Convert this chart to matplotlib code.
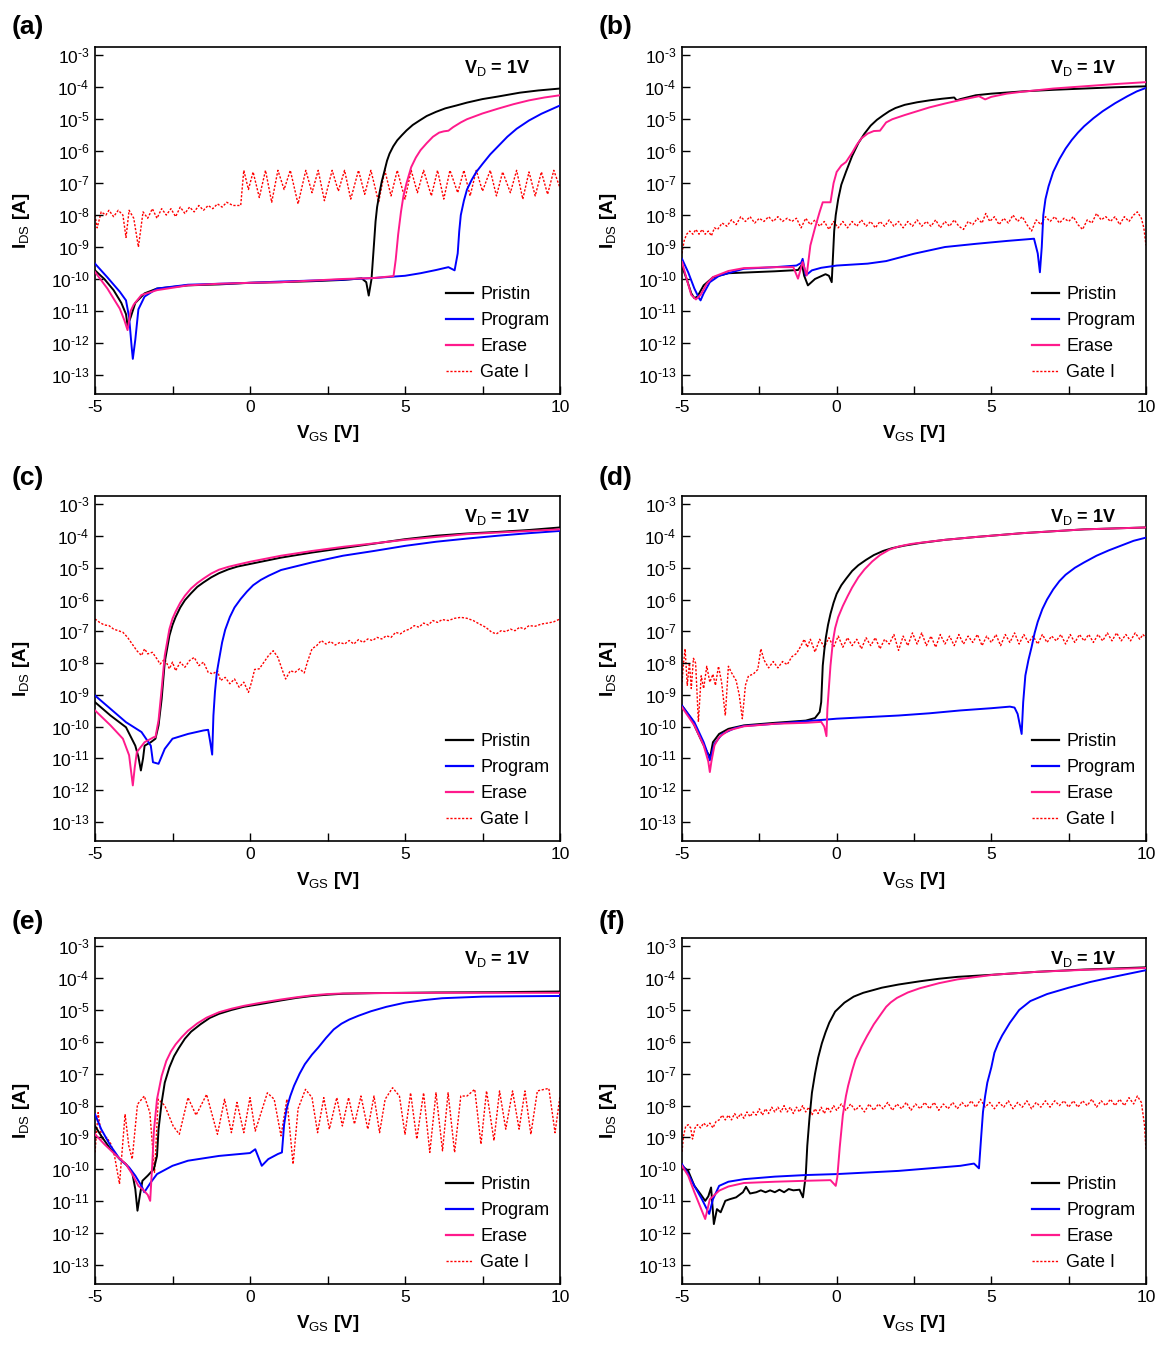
import numpy as np
import matplotlib
matplotlib.use('Agg')
import matplotlib.pyplot as plt
from matplotlib.lines import Line2D
from matplotlib.ticker import FixedLocator, FuncFormatter

plt.rcParams['font.family'] = ['Liberation Sans', 'DejaVu Sans']
plt.rcParams['mathtext.fontset'] = 'custom'
plt.rcParams['mathtext.rm'] = 'Liberation Sans'
plt.rcParams['mathtext.it'] = 'Liberation Sans:italic'
plt.rcParams['mathtext.bf'] = 'Liberation Sans:bold'

# ---------------- data: (V_GS [V], log10 I [A]) ----------------
a_pristin = [(-5.0,-9.73),(-4.7,-10.0),(-4.4,-10.35),(-4.15,-10.75),(-4.0,-11.1),(-3.95,-11.45),(-3.85,-11.2),
             (-3.7,-10.75),(-3.4,-10.45),(-3.0,-10.3),(-2.0,-10.2),(-1.0,-10.17),(0.0,-10.12),(1.0,-10.1),(2.0,-10.07),
             (3.0,-10.03),(3.6,-9.98),(3.75,-10.1),(3.83,-10.52),(3.92,-10.0),(4.0,-8.9),(4.05,-8.2),(4.1,-7.75),
             (4.18,-7.3),(4.25,-6.95),(4.33,-6.65),(4.42,-6.3),(4.5,-6.08),(4.62,-5.85),(4.75,-5.66),(4.9,-5.5),
             (5.05,-5.35),(5.25,-5.18),(5.47,-5.04),(5.7,-4.9),(6.0,-4.77),(6.3,-4.66),(6.66,-4.57),(7.0,-4.48),
             (7.5,-4.37),(8.0,-4.29),(8.7,-4.17),(9.3,-4.1),(10.0,-4.04)]
a_program = [(-5.0,-9.52),(-4.6,-9.95),(-4.2,-10.4),(-4.0,-10.67),(-3.9,-11.2),(-3.82,-12.1),(-3.78,-12.5),(-3.7,-11.9),
             (-3.6,-10.95),(-3.4,-10.55),(-3.0,-10.3),(-2.0,-10.18),(-1.0,-10.15),(0.0,-10.12),(1.0,-10.08),(2.0,-10.05),
             (3.0,-10.02),(4.0,-9.97),(5.0,-9.9),(5.5,-9.82),(6.0,-9.72),(6.4,-9.63),(6.6,-9.73),(6.7,-9.2),(6.75,-8.5),
             (6.8,-8.0),(6.9,-7.55),(7.0,-7.2),(7.15,-6.9),(7.3,-6.65),(7.5,-6.4),(7.75,-6.1),(8.0,-5.85),(8.3,-5.55),
             (8.6,-5.3),(9.0,-5.04),(9.4,-4.83),(9.7,-4.7),(10.0,-4.57)]
a_erase = [(-5.0,-9.78),(-4.6,-10.3),(-4.2,-10.93),(-4.05,-11.3),(-3.95,-11.6),(-3.85,-11.0),(-3.75,-10.8),(-3.5,-10.5),
           (-3.0,-10.35),(-2.0,-10.2),(-1.0,-10.15),(0.0,-10.12),(1.0,-10.1),(2.0,-10.05),(3.0,-10.0),(4.0,-9.97),
           (4.63,-9.91),(4.7,-9.4),(4.78,-8.6),(4.87,-7.9),(4.95,-7.4),(5.05,-7.0),(5.2,-6.5),(5.35,-6.2),(5.5,-5.97),
           (5.7,-5.75),(5.9,-5.55),(6.1,-5.42),(6.25,-5.38),(6.4,-5.36),(6.55,-5.25),(6.8,-5.1),(7.0,-5.0),(7.5,-4.82),
           (8.0,-4.67),(8.5,-4.53),(9.0,-4.41),(9.5,-4.32),(10.0,-4.25)]
a_gate = [(-5.0,-8.0),(-4.93,-8.4),(-4.8,-7.9),(-4.65,-8.0),(-4.55,-7.85),(-4.4,-8.05),(-4.25,-7.85),(-4.1,-8.0),
          (-4.0,-8.7),(-3.9,-7.85),(-3.75,-8.1),(-3.6,-9.0),(-3.45,-7.9),(-3.3,-8.1),(-3.15,-7.8),(-3.0,-8.1),
          (-2.85,-7.8),(-2.7,-8.0),(-2.55,-7.8),(-2.4,-8.05),(-2.25,-7.75),(-2.1,-7.95),(-1.95,-7.75),(-1.8,-7.9),
          (-1.65,-7.7),(-1.5,-7.85),(-1.35,-7.7),(-1.2,-7.8),(-1.05,-7.65),(-0.9,-7.75),(-0.75,-7.6),(-0.55,-7.7),
          (-0.3,-7.7),(-0.2,-6.6),(-0.05,-7.2),(0.1,-6.65),(0.3,-7.45),(0.5,-6.6),(0.7,-7.6),(0.9,-6.6),(1.1,-7.2),
          (1.3,-6.6),(1.55,-7.65),(1.8,-6.6),(2.0,-7.3),(2.2,-6.6),(2.4,-7.55),(2.65,-6.6),(2.85,-7.25),(3.05,-6.6),
          (3.25,-7.5),(3.5,-6.6),(3.7,-7.35),(3.9,-6.6),(4.15,-7.6),(4.35,-6.6),(4.55,-7.4),(4.75,-6.6),(5.0,-7.5),
          (5.2,-6.6),(5.4,-7.3),(5.6,-6.6),(5.85,-7.4),(6.05,-6.6),(6.25,-7.5),(6.45,-6.6),(6.7,-7.3),(6.9,-6.6),
          (7.1,-7.4),(7.3,-6.6),(7.5,-7.25),(7.75,-6.6),(7.95,-7.4),(8.15,-6.65),(8.4,-7.3),(8.6,-6.6),(8.8,-7.5),
          (9.0,-6.65),(9.2,-7.4),(9.4,-6.65),(9.6,-7.35),(9.8,-6.6),(10.0,-7.15)]

b_pristin = [(-5.0,-9.6),(-4.85,-10.0),(-4.7,-10.45),(-4.6,-10.6),(-4.5,-10.55),(-4.3,-10.2),(-4.0,-9.95),(-3.5,-9.82),
             (-3.0,-9.8),(-2.0,-9.76),(-1.25,-9.72),(-1.12,-9.55),(-1.05,-9.9),(-0.93,-10.2),(-0.7,-10.0),(-0.36,-9.85),
             (-0.25,-9.9),(-0.16,-10.1),(-0.12,-9.3),(-0.08,-8.5),(-0.03,-8.0),(0.05,-7.5),(0.15,-7.05),(0.3,-6.65),
             (0.5,-6.15),(0.7,-5.75),(0.9,-5.45),(1.1,-5.2),(1.3,-5.02),(1.5,-4.88),(1.7,-4.75),(1.9,-4.65),
             (2.2,-4.55),(2.6,-4.47),(3.0,-4.41),(3.4,-4.36),(3.8,-4.32),(3.88,-4.41),(4.0,-4.37),(4.5,-4.25),
             (5.0,-4.2),(6.0,-4.13),(7.0,-4.08),(8.0,-4.04),(9.0,-4.0),(10.0,-3.97)]
b_program = [(-5.0,-9.37),(-4.8,-9.79),(-4.6,-10.3),(-4.45,-10.6),(-4.4,-10.67),(-4.3,-10.45),(-4.1,-10.1),(-3.8,-9.9),
             (-3.0,-9.68),(-2.0,-9.63),(-1.3,-9.58),(-1.15,-9.5),(-1.1,-9.37),(-1.0,-9.89),(-0.8,-9.73),(-0.5,-9.65),
             (0.0,-9.58),(1.0,-9.52),(1.6,-9.44),(2.5,-9.21),(3.5,-9.0),(4.5,-8.9),(5.5,-8.81),(6.38,-8.74),
             (6.5,-9.2),(6.57,-9.79),(6.63,-9.0),(6.68,-8.0),(6.75,-7.5),(6.85,-7.1),(7.0,-6.65),(7.2,-6.25),
             (7.4,-5.92),(7.6,-5.65),(7.8,-5.42),(8.0,-5.22),(8.3,-4.97),(8.6,-4.75),(9.0,-4.5),(9.4,-4.28),
             (9.7,-4.13),(10.0,-4.02)]
b_erase = [(-5.0,-9.47),(-4.85,-10.0),(-4.7,-10.5),(-4.55,-10.64),(-4.4,-10.5),(-4.2,-10.15),(-4.0,-9.94),(-3.5,-9.75),
           (-3.0,-9.66),(-2.0,-9.63),(-1.4,-9.63),(-1.25,-9.99),(-1.1,-9.47),(-0.97,-9.89),(-0.85,-8.95),(-0.7,-8.4),
           (-0.55,-7.9),(-0.45,-7.6),(-0.2,-7.6),(-0.1,-7.0),(0.0,-6.65),(0.15,-6.45),(0.3,-6.34),(0.5,-6.05),
           (0.65,-5.8),(0.8,-5.6),(1.0,-5.45),(1.2,-5.37),(1.4,-5.36),(1.6,-5.1),(1.8,-5.0),(2.2,-4.87),(2.6,-4.75),
           (3.0,-4.63),(3.5,-4.51),(4.0,-4.4),(4.6,-4.28),(4.8,-4.38),(5.0,-4.3),(5.5,-4.2),(6.0,-4.14),(7.0,-4.04),
           (8.0,-3.97),(9.0,-3.9),(10.0,-3.84)]
b_gate = [(-5.0,-9.2),(-4.93,-8.8),(-4.85,-8.6),(-4.75,-8.5),(-4.65,-8.6),(-4.55,-8.45),(-4.45,-8.6),(-4.35,-8.45),
          (-4.25,-8.6),(-4.15,-8.5),(-4.05,-8.65),(-3.95,-8.4),(-3.85,-8.45),(-3.7,-8.25),(-3.55,-8.35),(-3.4,-8.15),
          (-3.25,-8.3),(-3.1,-8.05),(-2.95,-8.2),(-2.8,-8.05),(-2.65,-8.25),(-2.5,-8.1),(-2.35,-8.2),(-2.2,-8.05),
          (-2.05,-8.2),(-1.9,-8.05),(-1.75,-8.2),(-1.6,-8.1),(-1.45,-8.2),(-1.3,-8.1),(-1.15,-8.4),(-1.0,-8.1),
          (-0.85,-8.3),(-0.7,-8.15),(-0.55,-8.35),(-0.4,-8.2),(-0.25,-8.45),(-0.1,-8.2),(0.05,-8.4),(0.2,-8.2),
          (0.35,-8.4),(0.5,-8.2),(0.65,-8.35),(0.8,-8.15),(0.95,-8.35),(1.1,-8.2),(1.25,-8.4),(1.4,-8.2),
          (1.55,-8.35),(1.7,-8.15),(1.85,-8.35),(2.0,-8.2),(2.15,-8.4),(2.3,-8.2),(2.45,-8.35),(2.6,-8.15),
          (2.75,-8.35),(2.9,-8.2),(3.05,-8.35),(3.2,-8.15),(3.35,-8.4),(3.5,-8.2),(3.65,-8.35),(3.8,-8.15),
          (3.95,-8.35),(4.1,-8.45),(4.25,-8.2),(4.4,-8.3),(4.55,-8.1),(4.7,-8.25),(4.82,-7.95),(4.95,-8.2),
          (5.1,-8.05),(5.25,-8.3),(5.4,-8.1),(5.55,-8.25),(5.7,-8.0),(5.85,-8.2),(6.0,-8.05),(6.15,-8.3),
          (6.3,-8.5),(6.45,-8.15),(6.6,-8.3),(6.75,-8.05),(6.9,-8.2),(7.05,-8.05),(7.2,-8.25),(7.35,-8.1),
          (7.5,-8.2),(7.65,-8.05),(7.8,-8.3),(7.95,-8.45),(8.1,-8.15),(8.25,-8.25),(8.4,-7.95),(8.55,-8.15),
          (8.7,-8.05),(8.85,-8.2),(9.0,-8.05),(9.15,-8.3),(9.3,-8.05),(9.45,-8.2),(9.6,-8.0),(9.72,-7.9),
          (9.85,-8.1),(9.93,-8.4),(10.0,-8.95)]

c_pristin = [(-5.0,-9.23),(-4.5,-9.65),(-4.0,-10.02),(-3.7,-10.6),(-3.6,-10.95),(-3.52,-11.38),(-3.45,-11.0),(-3.4,-10.6),
             (-3.2,-10.49),(-3.05,-10.38),(-2.95,-9.96),(-2.85,-9.13),(-2.75,-7.97),(-2.6,-7.14),(-2.5,-6.8),
             (-2.4,-6.55),(-2.25,-6.25),(-2.1,-6.02),(-1.9,-5.8),(-1.7,-5.6),(-1.5,-5.46),(-1.25,-5.3),(-1.0,-5.17),
             (-0.7,-5.05),(-0.4,-4.96),(0.0,-4.88),(0.5,-4.78),(1.0,-4.68),(2.0,-4.52),(3.0,-4.38),(4.0,-4.24),
             (5.0,-4.1),(6.0,-3.99),(7.0,-3.92),(8.0,-3.87),(9.0,-3.81),(10.0,-3.73)]
c_program = [(-5.0,-9.02),(-4.5,-9.44),(-4.0,-9.86),(-3.5,-10.17),(-3.2,-10.6),(-3.13,-11.12),(-2.95,-11.17),(-2.75,-10.7),
             (-2.5,-10.38),(-2.0,-10.23),(-1.5,-10.12),(-1.35,-10.1),(-1.28,-10.5),(-1.22,-10.88),(-1.18,-9.65),
             (-1.13,-8.9),(-1.07,-8.3),(-1.0,-7.9),(-0.9,-7.35),(-0.8,-6.95),(-0.65,-6.55),(-0.5,-6.25),(-0.3,-5.98),
             (-0.1,-5.75),(0.1,-5.55),(0.35,-5.38),(0.6,-5.25),(1.0,-5.07),(1.5,-4.95),(2.0,-4.83),(3.0,-4.62),
             (4.0,-4.47),(5.0,-4.31),(6.0,-4.18),(7.0,-4.08),(8.0,-3.99),(9.0,-3.91),(10.0,-3.84)]
c_erase = [(-5.0,-9.49),(-4.5,-9.96),(-4.1,-10.38),(-3.9,-10.9),(-3.85,-11.3),(-3.78,-11.85),(-3.72,-11.3),(-3.65,-10.8),
           (-3.4,-10.49),(-3.1,-10.33),(-3.05,-10.33),(-2.95,-9.8),(-2.85,-8.81),(-2.75,-7.76),(-2.6,-6.93),
           (-2.5,-6.6),(-2.4,-6.38),(-2.25,-6.1),(-2.1,-5.88),(-1.9,-5.65),(-1.7,-5.48),(-1.5,-5.34),(-1.25,-5.18),
           (-1.0,-5.06),(-0.7,-4.97),(-0.4,-4.9),(0.0,-4.81),(1.0,-4.62),(2.0,-4.47),(3.0,-4.34),(4.0,-4.23),
           (5.0,-4.12),(6.0,-4.03),(7.0,-3.94),(8.0,-3.89),(9.0,-3.84),(10.0,-3.79)]
c_gate = [(-5.0,-6.61),(-4.85,-6.72),(-4.7,-6.8),(-4.55,-6.82),(-4.4,-6.93),(-4.25,-6.98),(-4.1,-7.03),(-3.95,-7.19),
          (-3.8,-7.4),(-3.65,-7.61),(-3.5,-7.76),(-3.4,-7.55),(-3.3,-7.71),(-3.15,-7.66),(-3.0,-7.87),(-2.9,-8.03),
          (-2.75,-7.87),(-2.6,-8.18),(-2.5,-7.97),(-2.4,-8.24),(-2.25,-7.97),(-2.1,-8.13),(-1.95,-7.92),(-1.8,-7.82),
          (-1.65,-8.08),(-1.5,-7.97),(-1.35,-8.29),(-1.2,-8.34),(-1.05,-8.24),(-0.95,-8.55),(-0.8,-8.45),(-0.65,-8.65),
          (-0.5,-8.5),(-0.35,-8.76),(-0.2,-8.6),(-0.05,-8.92),(0.05,-8.6),(0.15,-8.2),(0.3,-8.18),(0.45,-7.97),
          (0.6,-7.76),(0.75,-7.61),(0.9,-7.82),(1.05,-8.24),(1.15,-8.5),(1.3,-8.24),(1.45,-8.29),(1.6,-8.18),
          (1.75,-8.31),(1.85,-7.97),(2.0,-7.55),(2.15,-7.45),(2.3,-7.29),(2.45,-7.4),(2.6,-7.32),(2.75,-7.43),
          (2.9,-7.35),(3.05,-7.4),(3.2,-7.29),(3.35,-7.4),(3.5,-7.26),(3.65,-7.35),(3.8,-7.24),(3.95,-7.29),
          (4.1,-7.19),(4.25,-7.24),(4.4,-7.14),(4.55,-7.19),(4.7,-7.03),(4.85,-7.08),(5.0,-6.98),(5.15,-6.93),
          (5.3,-6.82),(5.45,-6.87),(5.6,-6.74),(5.75,-6.8),(5.9,-6.66),(6.05,-6.72),(6.2,-6.63),(6.4,-6.66),
          (6.6,-6.59),(6.8,-6.56),(7.0,-6.59),(7.2,-6.66),(7.4,-6.77),(7.6,-6.87),(7.8,-7.03),(7.95,-7.08),
          (8.1,-6.98),(8.25,-7.01),(8.4,-6.93),(8.55,-6.98),(8.7,-6.87),(8.85,-6.93),(9.0,-6.82),(9.2,-6.84),
          (9.4,-6.77),(9.6,-6.74),(9.8,-6.7),(10.0,-6.61)]

d_pristin = [(-5.0,-9.34),(-4.7,-9.75),(-4.4,-10.38),(-4.19,-10.8),(-4.09,-10.96),(-4.0,-10.49),(-3.8,-10.23),(-3.5,-10.07),
             (-3.0,-9.96),(-2.0,-9.88),(-1.0,-9.81),(-0.7,-9.73),(-0.55,-9.54),(-0.5,-9.23),(-0.45,-8.08),(-0.4,-7.6),
             (-0.35,-7.2),(-0.28,-6.8),(-0.2,-6.45),(-0.1,-6.1),(0.0,-5.82),(0.15,-5.55),(0.3,-5.35),(0.5,-5.1),
             (0.7,-4.92),(0.95,-4.75),(1.2,-4.6),(1.5,-4.47),(1.8,-4.38),(2.2,-4.3),(2.7,-4.22),(3.5,-4.12),
             (4.5,-4.03),(6.0,-3.91),(8.0,-3.79),(10.0,-3.73)]
d_program = [(-5.0,-9.34),(-4.6,-9.86),(-4.3,-10.49),(-4.15,-10.9),(-4.1,-11.06),(-4.03,-10.8),(-3.95,-10.54),(-3.7,-10.23),
             (-3.3,-10.05),(-3.0,-9.98),(-2.0,-9.91),(-1.0,-9.83),(0.0,-9.75),(1.0,-9.7),(2.0,-9.65),(3.0,-9.58),
             (4.0,-9.49),(5.0,-9.42),(5.6,-9.37),(5.75,-9.4),(5.85,-9.6),(5.98,-10.23),(6.03,-9.23),(6.1,-8.39),
             (6.2,-7.9),(6.3,-7.5),(6.4,-7.05),(6.5,-6.7),(6.65,-6.3),(6.8,-6.0),(7.0,-5.68),(7.2,-5.42),(7.4,-5.22),
             (7.7,-5.0),(8.0,-4.83),(8.4,-4.62),(8.8,-4.45),(9.2,-4.3),(9.6,-4.15),(10.0,-4.05)]
d_erase = [(-5.0,-9.39),(-4.6,-9.96),(-4.3,-10.59),(-4.15,-11.1),(-4.1,-11.43),(-4.05,-11.1),(-3.95,-10.59),(-3.8,-10.33),
           (-3.5,-10.12),(-3.0,-9.99),(-2.0,-9.91),(-1.0,-9.88),(-0.5,-9.85),(-0.4,-10.0),(-0.33,-10.3),(-0.3,-9.44),
           (-0.2,-8.08),(-0.12,-7.3),(-0.05,-6.9),(0.05,-6.55),(0.2,-6.2),(0.35,-5.9),(0.5,-5.62),(0.7,-5.3),
           (0.9,-5.05),(1.15,-4.8),(1.4,-4.6),(1.7,-4.43),(2.0,-4.33),(2.4,-4.25),(2.8,-4.2),(3.5,-4.12),
           (4.5,-4.03),(6.0,-3.91),(8.0,-3.79),(10.0,-3.73)]
d_gate = [(-5.0,-8.6),(-4.95,-8.0),(-4.9,-7.55),(-4.83,-8.7),(-4.76,-8.0),(-4.7,-8.8),(-4.63,-7.85),(-4.56,-8.0),
          (-4.47,-9.85),(-4.38,-8.4),(-4.3,-8.8),(-4.2,-8.1),(-4.1,-8.6),(-4.0,-8.35),(-3.92,-8.7),(-3.82,-8.1),
          (-3.72,-8.6),(-3.6,-9.65),(-3.5,-8.1),(-3.4,-8.3),(-3.25,-8.55),(-3.15,-9.0),(-3.05,-9.75),(-2.95,-8.7),
          (-2.85,-8.4),(-2.7,-8.35),(-2.55,-8.2),(-2.45,-7.55),(-2.35,-7.9),(-2.2,-8.15),(-2.05,-7.95),(-1.9,-8.15),
          (-1.75,-7.95),(-1.6,-8.05),(-1.45,-7.8),(-1.3,-7.7),(-1.15,-7.45),(-1.05,-7.25),(-0.95,-7.5),(-0.85,-7.25),
          (-0.7,-7.65),(-0.55,-7.25),(-0.4,-7.5),(-0.25,-7.2),(-0.1,-7.5),(0.05,-7.15),(0.2,-7.5),(0.35,-7.2),
          (0.5,-7.45),(0.65,-7.25),(0.8,-7.55),(0.95,-7.2),(1.1,-7.45),(1.25,-7.2),(1.4,-7.55),(1.55,-7.25),
          (1.7,-7.4),(1.85,-7.1),(2.0,-7.6),(2.15,-7.15),(2.3,-7.45),(2.45,-7.05),(2.6,-7.4),(2.75,-7.05),
          (2.9,-7.45),(3.05,-7.15),(3.2,-7.5),(3.35,-7.1),(3.5,-7.4),(3.65,-7.15),(3.8,-7.45),(3.95,-7.1),
          (4.1,-7.4),(4.25,-7.15),(4.4,-7.35),(4.55,-7.1),(4.7,-7.45),(4.85,-7.15),(5.0,-7.35),(5.15,-7.1),
          (5.3,-7.45),(5.45,-7.1),(5.6,-7.35),(5.75,-7.05),(5.9,-7.4),(6.05,-7.1),(6.2,-7.35),(6.35,-7.15),
          (6.5,-7.4),(6.65,-7.1),(6.8,-7.35),(6.95,-7.15),(7.1,-7.3),(7.25,-7.1),(7.4,-7.4),(7.55,-7.1),
          (7.7,-7.35),(7.85,-7.1),(8.0,-7.3),(8.15,-7.1),(8.3,-7.35),(8.45,-7.1),(8.6,-7.3),(8.75,-7.05),
          (8.9,-7.3),(9.05,-7.05),(9.2,-7.3),(9.35,-7.1),(9.5,-7.3),(9.65,-7.05),(9.8,-7.25),(9.9,-7.1),(10.0,-7.2)]

e_pristin = [(-5.0,-8.64),(-4.8,-8.95),(-4.5,-9.37),(-4.2,-9.68),(-4.0,-9.84),(-3.8,-10.1),(-3.7,-10.62),(-3.63,-11.3),
             (-3.55,-10.8),(-3.47,-10.36),(-3.3,-10.2),(-3.1,-9.99),(-3.0,-9.58),(-2.95,-8.74),(-2.85,-7.9),
             (-2.75,-7.28),(-2.6,-6.8),(-2.45,-6.45),(-2.3,-6.2),(-2.1,-5.9),(-1.9,-5.68),(-1.6,-5.45),(-1.3,-5.25),
             (-1.0,-5.12),(-0.6,-5.0),(-0.2,-4.9),(0.3,-4.82),(1.0,-4.7),(1.5,-4.62),(2.0,-4.56),(2.5,-4.52),
             (3.0,-4.49),(4.0,-4.47),(6.0,-4.45),(8.0,-4.44),(10.0,-4.42)]
e_program = [(-5.0,-8.27),(-4.8,-8.74),(-4.5,-9.26),(-4.2,-9.68),(-3.9,-9.94),(-3.7,-10.2),(-3.5,-10.52),(-3.41,-10.72),
             (-3.2,-10.41),(-3.0,-10.15),(-2.5,-9.89),(-2.0,-9.73),(-1.0,-9.58),(0.0,-9.49),(0.17,-9.37),(0.38,-9.89),
             (0.59,-9.68),(0.9,-9.52),(1.03,-9.47),(1.1,-8.6),(1.18,-8.1),(1.3,-7.7),(1.42,-7.38),(1.6,-7.0),
             (1.77,-6.7),(2.0,-6.4),(2.2,-6.18),(2.45,-5.88),(2.7,-5.61),(2.95,-5.43),(3.2,-5.3),(3.5,-5.18),
             (3.9,-5.04),(4.4,-4.9),(5.0,-4.77),(5.6,-4.69),(6.2,-4.63),(7.5,-4.58),(8.5,-4.57),(10.0,-4.56)]
e_erase = [(-5.0,-8.9),(-4.7,-9.21),(-4.3,-9.58),(-4.0,-9.84),(-3.8,-10.15),(-3.6,-10.52),(-3.47,-10.62),(-3.3,-10.8),
           (-3.22,-10.99),(-3.15,-9.78),(-3.1,-8.8),(-3.0,-7.8),(-2.85,-7.07),(-2.7,-6.6),(-2.55,-6.3),(-2.4,-6.08),
           (-2.2,-5.85),(-2.0,-5.65),(-1.7,-5.42),(-1.4,-5.24),(-1.0,-5.07),(-0.6,-4.96),(-0.2,-4.87),(0.3,-4.78),
           (1.0,-4.67),(1.5,-4.6),(2.0,-4.54),(2.5,-4.5),(3.0,-4.48),(4.0,-4.47),(6.0,-4.46),(8.0,-4.46),(10.0,-4.46)]
e_gate = [(-5.0,-9.47),(-4.9,-8.22),(-4.78,-9.05),(-4.62,-9.0),(-4.49,-9.2),(-4.37,-9.58),(-4.21,-10.46),(-4.03,-8.27),
          (-3.91,-9.26),(-3.8,-9.68),(-3.63,-7.96),(-3.41,-7.7),(-3.23,-8.22),(-3.08,-10.1),(-2.96,-7.8),(-2.75,-8.0),
          (-2.48,-8.64),(-2.28,-8.9),(-2.0,-7.75),(-1.74,-8.3),(-1.4,-7.65),(-1.05,-8.9),(-0.82,-7.8),(-0.6,-8.85),
          (-0.42,-7.9),(-0.2,-8.85),(0.0,-7.75),(0.17,-8.8),(0.56,-7.6),(0.78,-7.8),(1.0,-8.95),(1.19,-7.8),
          (1.39,-9.84),(1.55,-8.1),(1.79,-7.49),(2.0,-7.75),(2.18,-8.85),(2.38,-7.75),(2.56,-8.74),(2.8,-7.75),
          (2.98,-8.64),(3.18,-7.75),(3.37,-8.58),(3.58,-7.7),(3.8,-8.74),(4.0,-7.7),(4.18,-8.85),(4.36,-7.8),
          (4.6,-7.44),(4.82,-7.7),(5.0,-8.9),(5.18,-7.6),(5.38,-9.05),(5.6,-7.6),(5.8,-9.47),(6.0,-7.6),
          (6.21,-9.42),(6.39,-7.6),(6.6,-9.47),(6.8,-7.7),(7.0,-7.7),(7.25,-7.49),(7.45,-9.21),(7.63,-7.54),
          (7.87,-9.1),(8.05,-7.54),(8.25,-8.74),(8.47,-7.54),(8.68,-8.74),(8.87,-7.54),(9.06,-8.9),(9.27,-7.54),
          (9.45,-7.5),(9.64,-7.46),(9.84,-8.85),(10.0,-7.7)]

f_pristin = [(-5.0,-9.89),(-4.8,-10.05),(-4.6,-10.52),(-4.4,-10.78),(-4.25,-10.99),(-4.15,-10.85),(-4.06,-10.57),
             (-3.97,-11.72),(-3.87,-11.25),(-3.75,-11.35),(-3.6,-10.99),(-3.46,-10.94),(-3.25,-10.88),(-3.03,-10.72),
             (-2.93,-10.55),(-2.8,-10.76),(-2.6,-10.72),(-2.45,-10.66),(-2.3,-10.72),(-2.15,-10.66),(-2.0,-10.72),
             (-1.85,-10.64),(-1.7,-10.72),(-1.55,-10.62),(-1.4,-10.66),(-1.2,-10.64),(-1.09,-10.88),(-1.0,-10.2),
             (-0.95,-9.26),(-0.88,-8.4),(-0.8,-7.6),(-0.7,-7.0),(-0.6,-6.5),(-0.48,-6.05),(-0.36,-5.7),(-0.24,-5.4),
             (-0.05,-5.05),(0.25,-4.77),(0.55,-4.58),(0.86,-4.46),(1.2,-4.37),(1.46,-4.3),(2.0,-4.2),(2.68,-4.1),
             (3.3,-4.02),(3.9,-3.96),(5.1,-3.89),(6.5,-3.8),(8.0,-3.73),(10.0,-3.66)]
f_program = [(-5.0,-9.84),(-4.8,-10.15),(-4.6,-10.52),(-4.35,-10.95),(-4.12,-11.4),(-4.0,-10.94),(-3.8,-10.52),
             (-3.5,-10.39),(-3.0,-10.31),(-2.0,-10.23),(-1.0,-10.18),(0.0,-10.15),(1.0,-10.1),(2.0,-10.05),(3.0,-9.97),
             (4.0,-9.89),(4.44,-9.82),(4.6,-9.97),(4.67,-9.0),(4.73,-8.2),(4.8,-7.7),(4.87,-7.28),(5.0,-6.8),
             (5.1,-6.34),(5.22,-6.05),(5.35,-5.8),(5.6,-5.4),(5.9,-5.0),(6.26,-4.72),(6.8,-4.5),(7.5,-4.3),
             (8.2,-4.12),(9.0,-3.95),(9.5,-3.85),(10.0,-3.75)]
f_erase = [(-5.0,-9.89),(-4.8,-10.2),(-4.6,-10.72),(-4.4,-11.2),(-4.25,-11.56),(-4.1,-10.94),(-3.8,-10.67),(-3.5,-10.54),
           (-3.0,-10.43),(-2.0,-10.39),(-1.0,-10.36),(-0.2,-10.34),(-0.03,-10.52),(0.02,-10.25),(0.1,-9.3),
           (0.2,-8.3),(0.3,-7.7),(0.37,-7.38),(0.5,-6.9),(0.61,-6.55),(0.8,-6.15),(0.98,-5.82),(1.2,-5.45),
           (1.46,-5.09),(1.6,-4.9),(1.75,-4.76),(1.95,-4.62),(2.3,-4.45),(2.68,-4.32),(3.3,-4.16),(3.9,-4.04),
           (5.1,-3.89),(6.5,-3.8),(8.0,-3.74),(10.0,-3.68)]
f_gate = [(-5.0,-9.45),(-4.95,-8.95),(-4.88,-8.65),(-4.8,-8.6),(-4.72,-8.7),(-4.66,-9.05),(-4.58,-8.7),(-4.5,-8.6),
          (-4.4,-8.7),(-4.3,-8.55),(-4.2,-8.65),(-4.1,-8.55),(-4.0,-8.7),(-3.9,-8.5),(-3.8,-8.45),(-3.7,-8.3),
          (-3.6,-8.45),(-3.5,-8.3),(-3.4,-8.45),(-3.3,-8.25),(-3.2,-8.4),(-3.1,-8.25),(-3.0,-8.4),(-2.9,-8.2),
          (-2.8,-8.35),(-2.7,-8.2),(-2.6,-8.3),(-2.5,-8.1),(-2.4,-8.3),(-2.3,-8.1),(-2.2,-8.25),(-2.1,-8.05),
          (-2.0,-8.2),(-1.9,-8.05),(-1.8,-8.2),(-1.7,-8.0),(-1.6,-8.2),(-1.5,-8.05),(-1.4,-8.25),(-1.3,-8.05),
          (-1.2,-8.2),(-1.1,-8.0),(-1.0,-8.2),(-0.9,-8.05),(-0.8,-8.3),(-0.7,-8.1),(-0.6,-8.25),(-0.5,-8.05),
          (-0.4,-8.25),(-0.3,-8.05),(-0.2,-8.2),(-0.1,-8.0),(0.0,-8.15),(0.15,-7.95),(0.3,-8.15),(0.45,-7.95),
          (0.6,-8.15),(0.75,-8.0),(0.9,-8.2),(1.05,-7.95),(1.2,-8.15),(1.35,-7.95),(1.5,-8.1),(1.65,-7.9),
          (1.8,-8.15),(1.95,-7.95),(2.1,-8.1),(2.25,-7.9),(2.4,-8.15),(2.55,-7.95),(2.7,-8.1),(2.85,-7.9),
          (3.0,-8.1),(3.15,-7.9),(3.3,-8.15),(3.45,-7.95),(3.6,-8.1),(3.75,-7.9),(3.9,-8.1),(4.05,-7.9),
          (4.2,-8.05),(4.35,-7.85),(4.5,-8.05),(4.65,-7.8),(4.8,-8.05),(4.95,-7.9),(5.1,-8.1),(5.25,-7.9),
          (5.4,-8.05),(5.55,-7.85),(5.7,-8.1),(5.85,-7.9),(6.0,-8.05),(6.15,-7.85),(6.3,-8.1),(6.45,-7.9),
          (6.6,-8.05),(6.75,-7.85),(6.9,-8.05),(7.05,-7.85),(7.2,-8.0),(7.35,-7.85),(7.5,-8.05),(7.65,-7.85),
          (7.8,-8.05),(7.95,-7.85),(8.1,-8.0),(8.25,-7.8),(8.4,-8.05),(8.55,-7.85),(8.7,-8.0),(8.85,-7.8),
          (9.0,-8.0),(9.15,-7.8),(9.3,-8.0),(9.45,-7.75),(9.6,-7.95),(9.72,-7.7),(9.85,-7.9),(9.95,-8.6),(10.0,-9.4)]

panels = {
    'a': (a_pristin, a_program, a_erase, a_gate),
    'b': (b_pristin, b_program, b_erase, b_gate),
    'c': (c_pristin, c_program, c_erase, c_gate),
    'd': (d_pristin, d_program, d_erase, d_gate),
    'e': (e_pristin, e_program, e_erase, e_gate),
    'f': (f_pristin, f_program, f_erase, f_gate),
}
series_names = ['Pristin', 'Program', 'Erase', 'Gate I']
x_ticks = [-5, 0, 5, 10]
x_minor = [-2.5, 2.5, 7.5]
y_exps = list(range(-13, -2))

# ---------------- styling ----------------
W, H = 1170, 1346
fig = plt.figure(figsize=(W / 100, H / 100), dpi=100)
colors = ['#000000', '#0000FF', '#FF1A8C', '#FF0000']
gate_ls = (0, (1.6, 1.2))
col_left = [95, 682]
col_w = [465, 464]
row_top = [47, 496, 938]
row_h = [347, 345, 346]
label_pos = {'a': (12, 27), 'b': (599, 27), 'c': (12, 478), 'd': (599, 478), 'e': (12, 922), 'f': (599, 922)}
HYPHEN = '\u2010'


def ylabel_fmt(val, pos):
    k = int(round(np.log10(val)))
    return '$10^{' + HYPHEN + str(-k) + '}$'


for idx, key in enumerate('abcdef'):
    r, c = divmod(idx, 2)
    ax = fig.add_axes([col_left[c] / W, 1 - (row_top[r] + row_h[r]) / H, col_w[c] / W, row_h[r] / H])
    prs, prg, ers, gat = panels[key]
    for data, colr, z in ((gat, colors[3], 1), (prs, colors[0], 3), (prg, colors[1], 4), (ers, colors[2], 5)):
        v = np.array([p[0] for p in data])
        li = np.power(10.0, np.array([p[1] for p in data]))
        if data is gat:
            ax.plot(v, li, color=colr, lw=1.0, ls=gate_ls, zorder=z)
        else:
            ax.plot(v, li, color=colr, lw=1.4, zorder=z, solid_joinstyle='round')
    ax.set_yscale('log')
    ax.set_xlim(-5, 10)
    ax.set_ylim(10 ** -13.6, 10 ** -2.74)
    ax.xaxis.set_major_locator(FixedLocator(x_ticks))
    ax.xaxis.set_minor_locator(FixedLocator(x_minor))
    ax.yaxis.set_major_locator(FixedLocator([10.0 ** k for k in y_exps]))
    ax.yaxis.set_minor_locator(FixedLocator([]))
    ax.yaxis.set_major_formatter(FuncFormatter(ylabel_fmt))
    ax.xaxis.set_major_formatter(FuncFormatter(lambda val, pos: '%d' % val))
    ax.tick_params(axis='both', which='both', direction='in', top=False, right=False, width=1.0, colors='#000000')
    ax.tick_params(axis='both', which='major', length=5.5, labelsize=12.5, pad=4)
    ax.tick_params(axis='x', which='minor', length=5.5)
    for s in ax.spines.values():
        s.set_linewidth(1.2)
    ax.set_xlabel(r'$\mathbf{V}_{\mathrm{GS}}$ [V]', fontsize=13.5, fontweight='bold')
    ax.set_ylabel(r'$\mathbf{I}_{\mathrm{DS}}$ [A]', fontsize=13.5, fontweight='bold')
    ax.xaxis.set_label_coords(0.5, -0.085)
    ax.yaxis.set_label_coords(-0.135, 0.5)
    ax.text(0.935, 0.94, r'$\mathbf{V}_{\mathrm{D}}$ = 1V', transform=ax.transAxes, ha='right', va='center',
            fontsize=13, fontweight='bold')
    handles = [Line2D([], [], color=colors[0], lw=1.6), Line2D([], [], color=colors[1], lw=1.6),
               Line2D([], [], color=colors[2], lw=1.6), Line2D([], [], color=colors[3], lw=1.0, ls=gate_ls)]
    ax.legend(handles, series_names, loc='lower right', bbox_to_anchor=(1.0, 0.005), frameon=False,
              fontsize=13, handlelength=1.5, handletextpad=0.4, labelspacing=0.5, borderaxespad=0.2)
    lx, ly = label_pos[key]
    fig.text(lx / W, 1 - ly / H, '(%s)' % key, fontsize=19, fontweight='bold', ha='left', va='center')

fig.savefig('out.png', dpi=100)
